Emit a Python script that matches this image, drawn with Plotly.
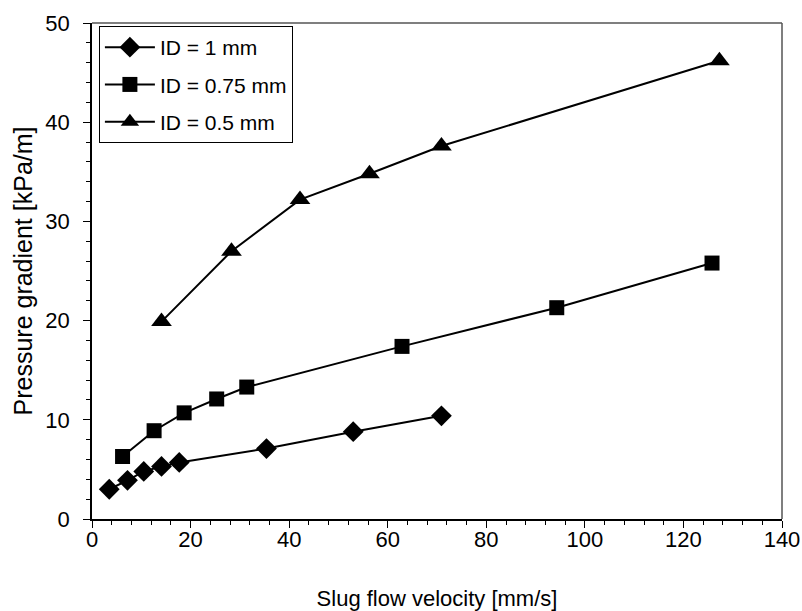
import plotly.graph_objects as go

# Data
id1_x = [3.5, 7.2, 10.5, 14.1, 17.7, 35.4, 53.0, 70.9]
id1_y = [3.0, 3.9, 4.8, 5.3, 5.7, 7.1, 8.8, 10.4]
id075_x = [6.2, 12.6, 18.7, 25.3, 31.4, 62.9, 94.3, 125.8]
id075_y = [6.3, 8.9, 10.7, 12.1, 13.3, 17.4, 21.3, 25.8]
id05_x = [14.1, 28.3, 42.2, 56.3, 70.9, 127.3]
id05_y = [19.9, 27.0, 32.2, 34.8, 37.6, 46.2]

names = ["ID = 1 mm", "ID = 0.75 mm", "ID = 0.5 mm"]
symbols = ["diamond", "square", "triangle-up"]
sizes = [16, 15, 18]

FONT = "Arial, Liberation Sans, sans-serif"

fig = go.Figure()
for i, (xs, ys) in enumerate([(id1_x, id1_y), (id075_x, id075_y), (id05_x, id05_y)]):
    fig.add_trace(go.Scatter(
        x=xs, y=ys, mode="lines+markers", name=names[i],
        legendgroup=f"g{i}",
        line=dict(color="black", width=2),
        marker=dict(symbol=symbols[i], size=sizes[i], color="black"),
    ))

axis_common = dict(
    showline=True, linecolor="black", linewidth=1.5,
    ticks="outside", ticklen=7, tickwidth=1.2, tickcolor="black",
    showgrid=False, zeroline=False, automargin=False,
    tickfont=dict(family=FONT, size=22, color="black"),
)

fig.update_xaxes(
    range=[0, 140], dtick=20, tick0=0,
    ticklabelstandoff=-7,
    minor=dict(dtick=4, ticks="outside", ticklen=4, tickcolor="black", tickwidth=1),
    title=dict(text="Slug flow velocity [mm/s]", font=dict(family=FONT, size=22, color="black"), standoff=40),
    **axis_common,
)
fig.update_yaxes(
    range=[0, 50], dtick=10, tick0=0,
    ticklabelstandoff=9,
    minor=dict(dtick=2, ticks="outside", ticklen=4, tickcolor="black", tickwidth=1),
    title=dict(text="Pressure gradient [kPa/m]", font=dict(family=FONT, size=25, color="black"), standoff=6),
    **axis_common,
)

# frame top and right (grey)
fig.add_shape(type="line", xref="paper", yref="paper", x0=0, x1=1, y0=1, y1=1,
              line=dict(color="#555555", width=1.5))
fig.add_shape(type="line", xref="paper", yref="paper", x0=1, x1=1, y0=0, y1=1,
              line=dict(color="#555555", width=1.5))

fig.update_layout(
    width=802, height=611,
    margin=dict(l=92, r=20, t=23, b=92),
    plot_bgcolor="white", paper_bgcolor="white",
    font=dict(family=FONT, color="black"),
    legend=dict(
        x=0.01, y=0.994, xanchor="left", yanchor="top",
        bordercolor="black", borderwidth=1, bgcolor="white",
        font=dict(family=FONT, size=21, color="black"),
        traceorder="grouped", tracegroupgap=7,
        itemwidth=50,
    ),
)

fig.write_html("out.html")
